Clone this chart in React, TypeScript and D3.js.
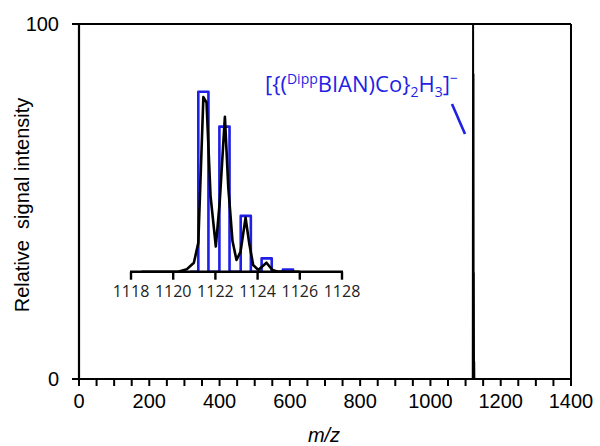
import React from "react";
import * as d3 from "d3";

// main spectrum (m/z, relative intensity)
const mainMz = [0, 1118, 1120.5, 1121.4, 1121.9, 1122.5, 1123.0, 1123.5, 1124.0, 1124.5, 1125, 1400];
const mainInt = [0, 0, 0, 100, 14, 86, 6, 30, 1, 5, 0, 0];

// inset: experimental (black)
const expMz = [1118.5, 1120.24, 1120.64, 1120.98, 1121.19, 1121.43, 1121.58, 1121.77, 1122.02, 1122.2, 1122.45, 1122.61, 1122.81, 1123.0, 1123.19, 1123.43, 1123.6, 1123.79, 1124.03, 1124.42, 1124.7, 1124.97, 1126.0];
const expInt = [0, 0, 1.3, 5, 16, 97, 94, 42, 14, 38, 86, 47, 17, 6.5, 11, 30, 16, 3.7, 1, 5, 1, 0, 0];

// inset: simulated isotope pattern (blue)
const simMz = [1121.43, 1122.43, 1123.44, 1124.43, 1125.44];
const simInt = [100, 80.6, 31, 7.4, 1.2];

const xTicksMain = [0, 200, 400, 600, 800, 1000, 1200, 1400];
const yTicksMain = [0, 100];
const insetTicks = [1118, 1120, 1122, 1124, 1126, 1128];

export default function App() {
  const W = 600, H = 446;
  const L = 79, R = 571, T = 24, B = 379;
  const x = d3.scaleLinear().domain([0, 1400]).range([L, R]);
  const y = d3.scaleLinear().domain([0, 100]).range([B, T]);

  const ix = d3.scaleLinear().domain([1118, 1128]).range([131, 342]);
  const iy = d3.scaleLinear().domain([0, 100]).range([271.7, 91.7]);

  const mainLine = d3.line<number>().x((d, i) => x(mainMz[i])).y((d) => y(d));
  const expLine = d3
    .line<number>()
    .x((d, i) => ix(expMz[i]))
    .y((d) => iy(d))
    .curve(d3.curveLinear);

  const halfW = 0.24;
  const simPts: [number, number][] = [[ix(1120.8), iy(0)]];
  simMz.forEach((m, i) => {
    simPts.push([ix(m - halfW), iy(0)]);
    simPts.push([ix(m - halfW), iy(simInt[i])]);
    simPts.push([ix(m + halfW), iy(simInt[i])]);
    simPts.push([ix(m + halfW), iy(0)]);
  });
  const simLine = d3.line().curve(d3.curveLinear)(simPts) || "";

  const minorTicks = d3.range(0, 1401, 50);

  const blue = "#1f1fe6";
  const fontMain = "Liberation Sans, Arial, sans-serif";
  const fontCal = "Open Sans, sans-serif";

  return (
    <svg width={W} height={H} style={{ position: "absolute", left: 0, top: 0 }}>
      <rect width={W} height={H} fill="#fff" />
      {/* frame */}
      <line x1={L} x2={R} y1={T} y2={T} stroke="#000" strokeWidth={2} />
      <line x1={R} x2={R} y1={T} y2={B} stroke="#000" strokeWidth={2} />
      <line x1={L} x2={L} y1={T - 1} y2={B + 1} stroke="#000" strokeWidth={2.2} />
      <line x1={L - 1} x2={R + 1} y1={B} y2={B} stroke="#000" strokeWidth={2.2} />
      {/* x ticks */}
      {minorTicks.map((t) => (
        <line key={t} x1={x(t)} x2={x(t)} y1={B} y2={B + 7} stroke="#000" strokeWidth={2} />
      ))}
      {xTicksMain.map((t) => (
        <text key={t} x={x(t)} y={B + 29} textAnchor="middle" fontFamily={fontMain} fontSize={20} fill="#000">
          {t}
        </text>
      ))}
      {/* y ticks */}
      {yTicksMain.map((t) => (
        <g key={t}>
          <line x1={L - 7} x2={L} y1={y(t)} y2={y(t)} stroke="#000" strokeWidth={2} />
          <text x={59} y={y(t) + 7} textAnchor="end" fontFamily={fontMain} fontSize={20} fill="#000">
            {t}
          </text>
        </g>
      ))}
      <text
        transform={`translate(29,205) rotate(-90)`}
        textAnchor="middle"
        fontFamily={fontMain}
        fontSize={20}
        fill="#000"
        style={{ whiteSpace: "pre" }}
      >
        {"Relative  signal intensity"}
      </text>
      <text x={324} y={442} textAnchor="middle" fontFamily={fontMain} fontSize={20} fontStyle="italic" fill="#000">
        m/z
      </text>

      {/* main spectrum */}
      <path d={mainLine(mainInt) || ""} fill="none" stroke="#000" strokeWidth={2} />

      {/* inset */}
      <path d={simLine} fill="none" stroke={blue} strokeWidth={2.6} strokeLinejoin="round" />
      <path d={expLine(expInt) || ""} fill="none" stroke="#000" strokeWidth={2.6} strokeLinejoin="round" />
      <line x1={ix(1118) - 1} x2={ix(1128) + 1} y1={iy(0)} y2={iy(0)} stroke="#000" strokeWidth={2.4} />
      {insetTicks.map((t) => (
        <g key={t}>
          <line x1={ix(t)} x2={ix(t)} y1={iy(0)} y2={iy(0) + 8} stroke="#000" strokeWidth={2.4} />
          <text x={ix(t)} y={297} textAnchor="middle" fontFamily={fontCal} fontSize={16} fill="#222">
            {t}
          </text>
        </g>
      ))}

      {/* annotation */}
      <text x={265} y={92} fontFamily={fontCal} fontSize={22} fill={blue}>
        <tspan>{"[{("}</tspan>
        <tspan fontSize={14} dy={-8}>Dipp</tspan>
        <tspan dy={8}>{"BIAN)Co}"}</tspan>
        <tspan fontSize={14} dy={5}>2</tspan>
        <tspan dy={-5}>H</tspan>
        <tspan fontSize={14} dy={5}>3</tspan>
        <tspan dy={-5}>]</tspan>
        <tspan fontSize={14} dy={-9}>{"\u2212"}</tspan>
      </text>
      <line x1={452} y1={104} x2={465} y2={134} stroke={blue} strokeWidth={2.6} />
    </svg>
  );
}
